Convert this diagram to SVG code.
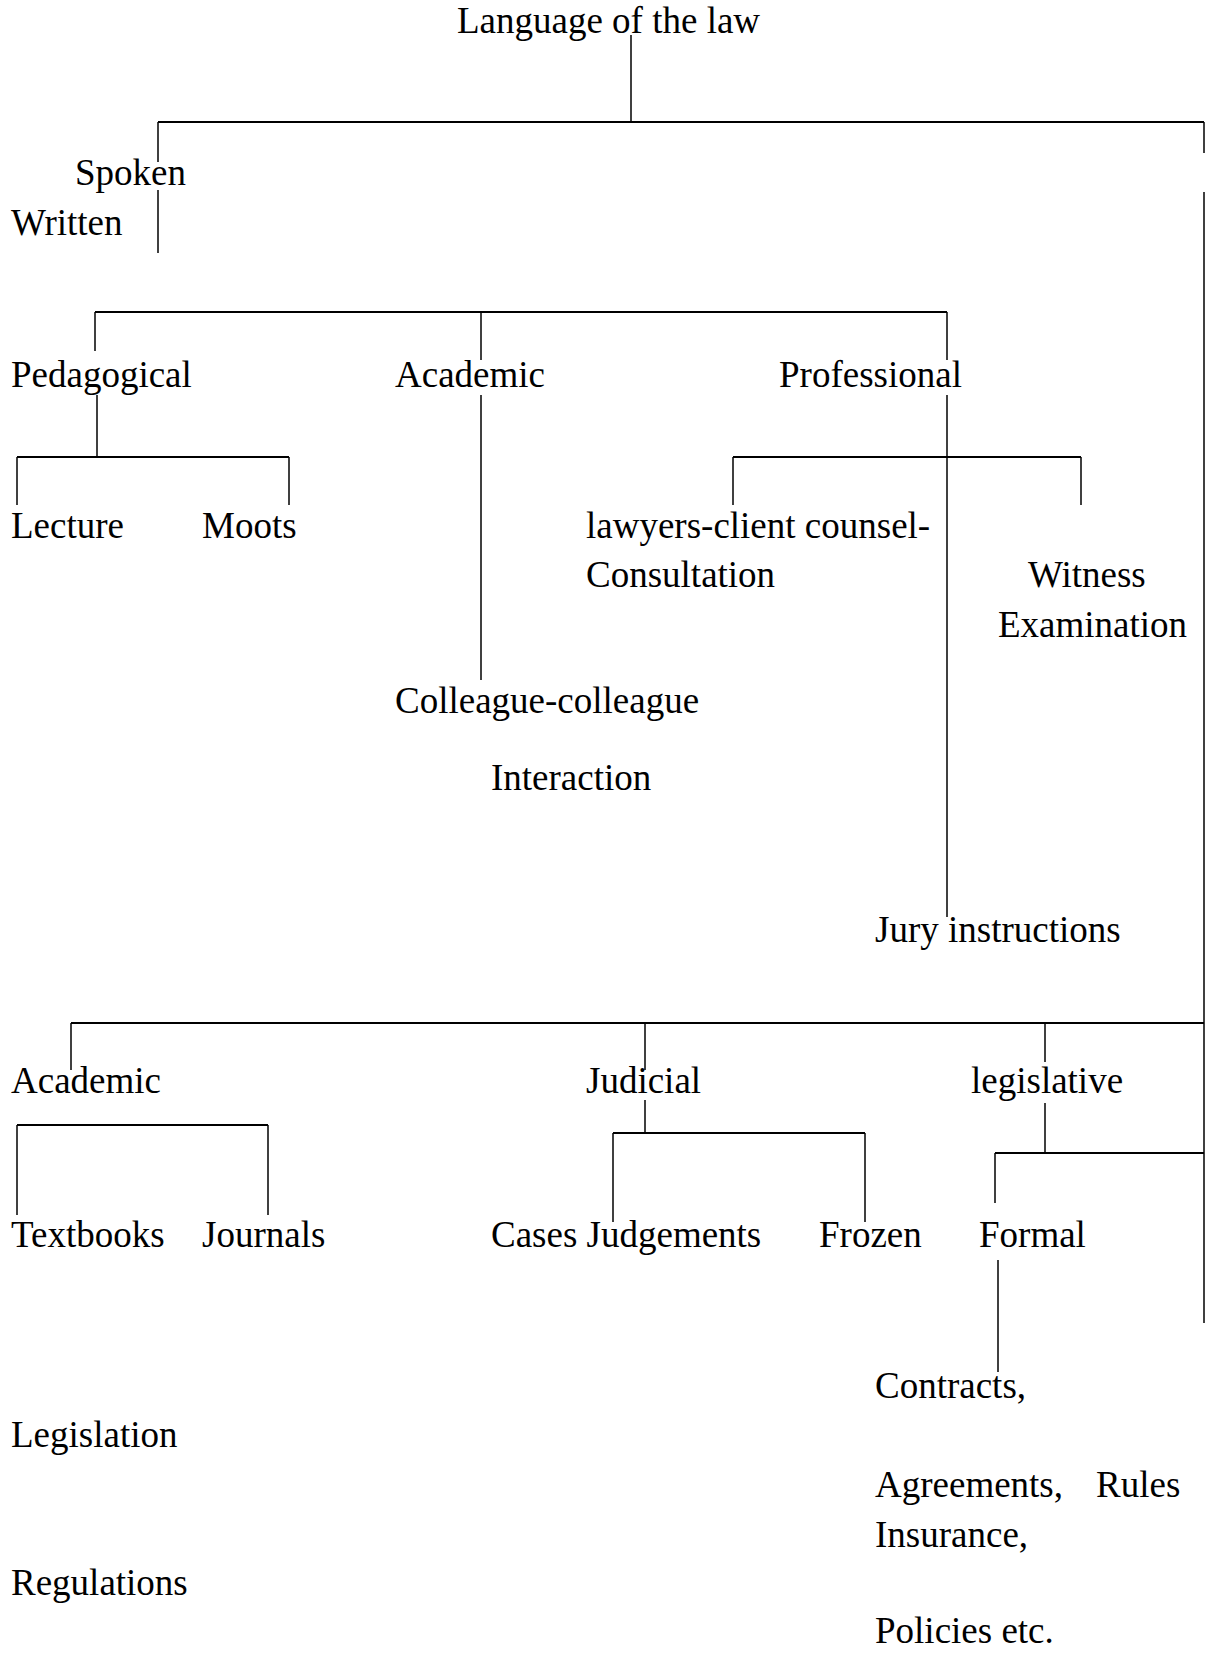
<svg xmlns="http://www.w3.org/2000/svg" width="1206" height="1656" viewBox="0 0 1206 1656">
<style>
text{font-family:"Liberation Serif","Times New Roman",serif;font-size:37px;fill:#000}
.c line{stroke:#000;stroke-width:1.5}
.c line.h{stroke-width:2}
</style>
<rect width="1206" height="1656" fill="#fff"/>
<g class="c" id="connectors">
<line x1="631" y1="35" x2="631" y2="122"/>
<line class="h" x1="158" y1="122" x2="1204" y2="122"/>
<line x1="1204" y1="122" x2="1204" y2="153"/>
<line x1="1204" y1="192" x2="1204" y2="1323"/>
<line x1="158" y1="122" x2="158" y2="162"/>
<line x1="158" y1="190" x2="158" y2="253"/>
<line class="h" x1="95" y1="312" x2="947" y2="312"/>
<line x1="95" y1="312" x2="95" y2="351"/>
<line x1="481" y1="312" x2="481" y2="360"/>
<line x1="947" y1="312" x2="947" y2="360"/>
<line x1="481" y1="395" x2="481" y2="680"/>
<line x1="947" y1="395" x2="947" y2="917"/>
<line x1="97" y1="395" x2="97" y2="457"/>
<line class="h" x1="17" y1="457" x2="289" y2="457"/>
<line x1="17" y1="457" x2="17" y2="505"/>
<line x1="289" y1="457" x2="289" y2="505"/>
<line class="h" x1="733" y1="457" x2="1081" y2="457"/>
<line x1="733" y1="457" x2="733" y2="505"/>
<line x1="1081" y1="457" x2="1081" y2="505"/>
<line class="h" x1="71" y1="1023" x2="1204" y2="1023"/>
<line x1="71" y1="1023" x2="71" y2="1070"/>
<line x1="645" y1="1023" x2="645" y2="1070"/>
<line x1="645" y1="1100" x2="645" y2="1133"/>
<line x1="1045" y1="1023" x2="1045" y2="1062"/>
<line x1="1045" y1="1103" x2="1045" y2="1153"/>
<line class="h" x1="17" y1="1125" x2="268" y2="1125"/>
<line x1="17" y1="1125" x2="17" y2="1215"/>
<line x1="268" y1="1125" x2="268" y2="1215"/>
<line class="h" x1="613" y1="1133" x2="865" y2="1133"/>
<line x1="613" y1="1133" x2="613" y2="1222"/>
<line x1="865" y1="1133" x2="865" y2="1222"/>
<line class="h" x1="995" y1="1153" x2="1204" y2="1153"/>
<line x1="995" y1="1153" x2="995" y2="1203"/>
<line x1="998" y1="1260" x2="998" y2="1372"/>
</g>
<g id="n-root"><text x="457" y="33">Language of the law</text></g>
<g id="n-spoken"><text x="75" y="185">Spoken</text></g>
<g id="n-written"><text x="11" y="235">Written</text></g>
<g id="n-pedagogical"><text x="11" y="387">Pedagogical</text></g>
<g id="n-academic1"><text x="395" y="387">Academic</text></g>
<g id="n-professional"><text x="779" y="387">Professional</text></g>
<g id="n-lecture"><text x="11" y="538">Lecture</text></g>
<g id="n-moots"><text x="202" y="538">Moots</text></g>
<g id="n-lawyers"><text x="586" y="538">lawyers-client counsel-</text><text x="586" y="587">Consultation</text></g>
<g id="n-witness"><text x="1028" y="587">Witness</text><text x="998" y="637">Examination</text></g>
<g id="n-colleague"><text x="395" y="713">Colleague-colleague</text><text x="491" y="790">Interaction</text></g>
<g id="n-jury"><text x="875" y="942">Jury instructions</text></g>
<g id="n-academic2"><text x="11" y="1093">Academic</text></g>
<g id="n-judicial"><text x="586" y="1093">Judicial</text></g>
<g id="n-legislative"><text x="971" y="1093">legislative</text></g>
<g id="n-textbooks"><text x="11" y="1247">Textbooks</text></g>
<g id="n-journals"><text x="202" y="1247">Journals</text></g>
<g id="n-cases"><text x="491" y="1247">Cases Judgements</text></g>
<g id="n-frozen"><text x="819" y="1247">Frozen</text></g>
<g id="n-formal"><text x="979" y="1247">Formal</text></g>
<g id="n-contracts"><text x="875" y="1398">Contracts,</text><text x="875" y="1497">Agreements,</text><text x="1096" y="1497">Rules</text><text x="875" y="1547">Insurance,</text><text x="875" y="1643">Policies etc.</text></g>
<g id="n-legislation"><text x="11" y="1447">Legislation</text></g>
<g id="n-regulations"><text x="11" y="1595">Regulations</text></g>
</svg>
